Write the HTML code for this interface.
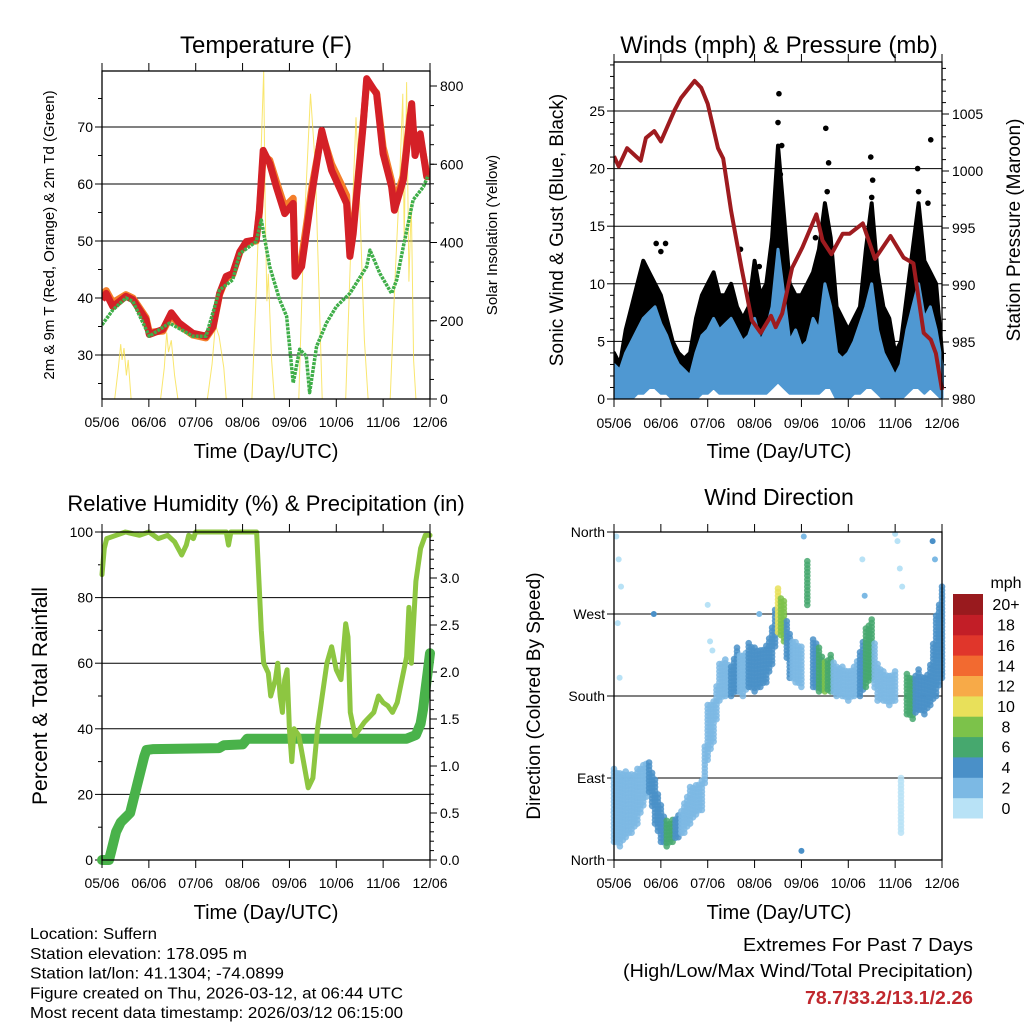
<!DOCTYPE html>
<html><head><meta charset="utf-8"><style>
html,body{margin:0;padding:0;background:#fff}
svg{display:block;font-family:"Liberation Sans",sans-serif}
</style></head><body>
<svg id="s" width="1024" height="1024" viewBox="0 0 1024 1024" xmlns="http://www.w3.org/2000/svg"></svg>
<script>
// ---------- DATA ----------
const dayLabels=["05/06","06/06","07/06","08/06","09/06","10/06","11/06","12/06"];
const tempTimes=[0,0.09,0.23,0.51,0.66,0.94,1.01,1.3,1.48,1.65,1.94,2.22,2.37,2.51,2.65,2.79,2.94,3.08,3.29,3.36,3.44,3.58,3.72,3.9,4.08,4.12,4.26,4.48,4.69,4.9,5.22,5.29,5.36,5.57,5.65,5.86,6.0,6.18,6.24,6.43,6.57,6.61,6.68,6.79,6.93,7.0];
const tempRed=[39.7,40.8,38.5,40.3,39.7,36.2,33.6,34.5,37.4,35.6,33.8,33.3,35,40.8,43.8,44.3,48.1,49.9,50.2,55.4,65.9,63.6,59.5,54.8,56.6,43.8,45.5,58.3,69.4,62.4,56.6,47.3,51.3,70,78.5,75.8,65.3,59.5,55.4,60.7,71.2,74.1,65,68.8,61.3,61.3];
const tempOrange=[40.6,41.3,39.2,40.6,40,36.6,34,34.2,37,35.2,33.5,33,34.8,40.6,43.5,44.1,48,49.7,50,55,65,64.2,60.5,56,57.5,45,47,59.5,69,63.5,58,49,52,70.5,77.8,76,66.5,60.5,56.5,61.5,72,73,66,68,62,61];
const dewTimes=[0,0.23,0.51,0.66,1.01,1.44,1.94,2.22,2.51,2.79,2.94,3.29,3.4,3.58,3.79,3.94,4.08,4.22,4.36,4.43,4.58,4.79,5.0,5.29,5.65,5.72,5.93,6.18,6.29,6.43,6.64,6.86,6.96];
const dewVals=[35.3,37.9,40,39.4,33.3,35.6,33.3,33.3,41.4,43.2,47.8,49.9,53.7,45.5,39.7,36.8,25.1,31,29.8,23.4,31.5,35.6,38.5,40.8,45.5,48.4,44.3,40.8,43.2,49,57.2,59.5,61.5];
const solarTimes=[0.27,0.35,0.4,0.43,0.47,0.52,0.56,0.62,null,1.25,1.33,1.38,1.42,1.48,1.55,1.62,null,2.25,2.35,2.42,2.5,2.6,2.65,null,3.2,3.3,3.4,3.45,3.48,3.52,3.55,3.62,3.68,null,4.2,4.3,4.45,4.55,4.65,4.7,null,5.2,5.3,5.42,5.5,5.6,5.68,null,6.15,6.25,6.35,6.42,6.45,6.5,6.55,6.6,6.65,6.7];
const solarVals=[0,80,140,100,130,60,100,0,null,0,80,170,120,150,60,0,null,0,90,190,160,80,0,null,0,300,650,840,500,250,320,100,0,null,0,400,780,600,200,0,null,0,350,720,500,150,0,null,0,300,550,780,400,810,300,500,100,0];
const windTimes=[0,0.125,0.25,0.375,0.5,0.625,0.75,0.875,1,1.125,1.25,1.375,1.5,1.625,1.75,1.875,2,2.125,2.25,2.375,2.5,2.625,2.75,2.875,3,3.125,3.25,3.375,3.5,3.625,3.75,3.875,4,4.125,4.25,4.375,4.5,4.625,4.75,4.875,5,5.125,5.25,5.375,5.5,5.625,5.75,5.875,6,6.125,6.25,6.375,6.5,6.625,6.75,6.875,7];
const windHigh=[3,2.5,4,5,6,7,7.5,8,6.5,5.5,4,3,2.5,2,4,5.5,6,7,6,6.5,7,6,5,5.5,7,5,6,8,13,9,5,6,4.5,5,7,6,10,8,4,3.5,4,5,6.5,8,10,6,4,3,2,3,6,8,10,7,8,6,3];
const windLow=[0,0,0,0,0.5,0.5,1,1,0.5,0.5,0,0,0,0,0,0.5,0.5,1,0.5,0.5,0.5,0.5,0.5,0.5,0.5,0.5,0.5,1,1.5,1,0.5,0.5,0.5,0.5,0.5,0.5,1,1,0,0,0,0.5,0.5,1,1,0.5,0,0,0,0,0.5,1,1,0.5,1,0.5,0];
const gustHigh=[4,3,6,8,10,12,11,10,9,7,5,4,3.5,4,7,9,10,11,9,9,10,8,7,8,12,9,10,14,22,16,10,9,9,10,11,13,17,14,8,7,6,7,8,13,17,11,8,7,4,5,9,13,17,12,11,10,4];
const gustSpikeTimes=[3.52,3.58,3.55,3.5,4.52,4.58,4.55,5.48,5.52,5.5,6.48,6.5,6.76,6.7,0.9,1.1,1.0,2.7,3.1,4.3];
const gustSpikeVals=[26.5,22,19.5,24,23.5,20.5,18,21,19,17.5,20,18,22.5,17,13.5,13.5,12.8,13,11.5,14];
const presTimes=[0,0.1,0.28,0.57,0.68,0.86,1.0,1.29,1.43,1.72,1.86,2.0,2.22,2.33,2.5,2.72,2.94,3.13,3.35,3.45,3.59,3.8,4.02,4.32,4.45,4.64,4.88,5.03,5.31,5.57,5.9,6.18,6.39,6.61,6.76,6.87,7.0];
const presVals=[1001.3,1000.4,1002,1000.9,1002.9,1003.5,1002.6,1005.3,1006.4,1007.9,1007.3,1005.9,1002,1001.1,996.5,991.5,986.9,985.8,987.3,986.3,987.5,991.5,993.3,996.2,993.9,992.7,994.5,994.5,995.4,992.3,994.3,992.4,991.9,985.8,985.2,984,980.8];
const rhTimes=[0,0.05,0.1,0.3,0.5,0.8,1.0,1.2,1.4,1.55,1.7,1.8,1.85,1.95,2.0,2.5,2.65,2.7,2.75,3.0,3.3,3.4,3.45,3.55,3.6,3.7,3.75,3.8,3.85,3.9,3.95,4.0,4.05,4.1,4.2,4.3,4.4,4.5,4.6,4.7,4.8,4.9,5.0,5.1,5.2,5.25,5.3,5.4,5.5,5.6,5.8,5.9,6.0,6.1,6.2,6.3,6.4,6.5,6.55,6.6,6.7,6.8,6.9,7.0];
const rhVals=[87,95,98,99,100,99,100,98,99,97,93,96,99,98,100,100,100,96,100,100,100,70,60,57,50,55,60,50,45,55,58,40,30,40,38,30,22,25,40,50,60,65,58,55,72,68,45,38,40,42,45,50,48,47,45,48,55,62,77,60,85,95,99,99];
const precipTimes=[0,0.15,0.2,0.3,0.4,0.5,0.6,0.7,0.8,0.9,0.95,1.1,2.5,2.6,3.0,3.1,6.5,6.7,6.8,6.85,6.9,6.95,7.0];
const precipVals=[0,0,0.1,0.3,0.4,0.45,0.5,0.7,0.9,1.1,1.17,1.18,1.19,1.22,1.23,1.29,1.29,1.33,1.45,1.6,1.8,2.0,2.2];
const dirTimes=windTimes;
const dirLow=[20,15,25,30,40,60,75,40,20,15,20,25,30,40,50,55,110,130,175,180,180,185,180,190,185,190,195,215,250,240,200,195,190,280,190,185,185,185,180,180,175,180,180,190,200,175,175,170,175,30,160,155,165,160,170,180,200];
const dirHigh=[100,95,100,95,100,105,110,90,60,45,45,50,65,80,85,90,170,175,215,220,215,235,225,240,235,230,235,255,300,285,250,240,235,330,245,235,220,225,215,215,210,215,230,255,265,215,210,205,210,90,205,200,210,200,215,270,300];
const dirSpeed=[2,2,3,2,3,3,4,4,5,6,6,5,3,2,2,2,2,2,3,3,4,4,3,4,4,4,4,5,10,8,4,3,3,6,5,7,8,7,3,3,3,3,4,7,7,3,3,2,2,1,6,6,5,4,4,4,4];
const outTimes=[0.05,0.1,0.15,0.08,0.85,2.0,2.05,3.1,5.3,5.35,6.0,6.05,6.1,6.15,6.8,6.85,4.05,4.0,0.12,2.1];
const outDirs=[355,330,300,260,270,280,240,270,330,290,358,350,320,300,350,330,355,10,200,230];
const outSpeed=[0,0,1,0,4,1,0,3,1,2,0,0,1,0,4,3,3,4,0,1];
const cbLabels=["0","2","4","6","8","10","12","14","16","18","20+"];
const cbColors=["#b8e2f6","#7cb9e4","#4a90c8","#46a86e","#7cc24a","#e8e05a","#f7aa48","#f26a30","#e0362b","#c21e27","#991a1e"];

// ---------- HELPERS ----------
const S=document.getElementById('s');const NS='http://www.w3.org/2000/svg';
function mk(tag,attrs,parent){const e=document.createElementNS(NS,tag);for(const k in attrs)e.setAttribute(k,attrs[k]);(parent||S).appendChild(e);return e;}
function txt(str,x,y,size,anchor,parent,extra){const e=mk('text',Object.assign({x:x,y:y,'font-size':size,'text-anchor':anchor||'middle',fill:'#000'},extra||{}),parent);e.textContent=str;return e;}
function lin(d0,d1,p0,p1){return v=>p0+(v-d0)/(d1-d0)*(p1-p0);}
function pathFrom(ts,vs,X,Y){let d='',pen=false;for(let i=0;i<ts.length;i++){if(ts[i]===null){pen=false;continue;}d+=(pen?'L':'M')+X(ts[i]).toFixed(1)+','+Y(vs[i]).toFixed(1);pen=true;}return d;}
function frame(g,x0,y0,x1,y1){mk('rect',{x:x0,y:y0,width:x1-x0,height:y1-y0,fill:'none',stroke:'#000','stroke-width':1.3},g);}
function xAxis(g,X,y0,y1,labY){dayLabels.forEach((l,i)=>{const x=X(i);mk('line',{x1:x,x2:x,y1:y1,y2:y1+8,stroke:'#000','stroke-width':1},g);mk('line',{x1:x,x2:x,y1:y0,y2:y0-8,stroke:'#000','stroke-width':1},g);const t=txt(l,x,labY,14,'middle',g);});}
function leftAxis(g,Y,ticks,labels,x0,x1,grid,minor){ticks.forEach((v,i)=>{const y=Y(v);mk('line',{x1:x0-7,x2:x0,y1:y,y2:y,stroke:'#000'},g);if(grid)mk('line',{x1:x0,x2:x1,y1:y,y2:y,stroke:'#000','stroke-width':1},g);const t=txt(labels[i],x0-9,y+5,14,'end',g);});(minor||[]).forEach(v=>{const y=Y(v);mk('line',{x1:x0-4,x2:x0,y1:y,y2:y,stroke:'#000'},g);});}
function rightAxis(g,Y,ticks,labels,x1,minor){ticks.forEach((v,i)=>{const y=Y(v);mk('line',{x1:x1,x2:x1+7,y1:y,y2:y,stroke:'#000'},g);const t=txt(labels[i],x1+10,y+5,14,'start',g);});(minor||[]).forEach(v=>{const y=Y(v);mk('line',{x1:x1,x2:x1+4,y1:y,y2:y,stroke:'#000'},g);});}
function rng(a,b,s){const r=[];for(let v=a;v<=b+1e-9;v+=s)r.push(+v.toFixed(4));return r;}

// ---------- PANEL 1: TEMPERATURE ----------
{const g=mk('g',{});
const x0=102,x1=430,y0=71,y1=399;const X=lin(0,7,x0,x1);const Y=lin(30,70,355,127);const YS=lin(0,800,399,86);
leftAxis(g,Y,[30,40,50,60,70],["30","40","50","60","70"],x0,x1,true,rng(25,80,5).filter(v=>Y(v)>=y0&&Y(v)<=y1));
rightAxis(g,YS,[0,200,400,600,800],["0","200","400","600","800"],x1,rng(0,840,50).filter(v=>YS(v)>=y0));
const cp=mk('clipPath',{id:'c1'},g);mk('rect',{x:x0,y:y0,width:x1-x0,height:y1-y0},cp);
const pg=mk('g',{'clip-path':'url(#c1)'},g);
const sol=mk('path',{d:pathFrom(solarTimes,solarVals,X,YS),fill:'none',stroke:'#f7e04a','stroke-width':1,'stroke-opacity':0.8},pg);
const or=mk('path',{d:pathFrom(tempTimes,tempOrange,X,Y),fill:'none',stroke:'#f47e2a','stroke-width':7,'stroke-linejoin':'round'},pg);
const rd=mk('path',{d:pathFrom(tempTimes,tempRed,X,Y),fill:'none',stroke:'#d42027','stroke-width':7,'stroke-linejoin':'round'},pg);
const dw=mk('path',{d:pathFrom(dewTimes,dewVals,X,Y),fill:'none',stroke:'#3fae49','stroke-width':3.5,'stroke-dasharray':'3 1','stroke-linejoin':'round'},pg);
frame(g,x0,y0,x1,y1);xAxis(g,X,y0,y1,427);
const t1=txt('Temperature (F)',266,53,24,'middle',g);
const t2=txt('Time (Day/UTC)',266,458,20,'middle',g);
const t3=txt('2m & 9m T (Red, Orange) & 2m Td (Green)',0,0,15,'middle',g,{transform:'translate(54,235) rotate(-90)'});
const t4=txt('Solar Insolation (Yellow)',0,0,15,'middle',g,{transform:'translate(497,235) rotate(-90)'});}

// ---------- PANEL 2: WINDS ----------
{const g=mk('g',{});
const x0=614,x1=942,y0=62,y1=399;const X=lin(0,7,x0,x1);const Y=lin(0,25,399,111);const YP=lin(980,1005,399,114);
leftAxis(g,Y,[0,5,10,15,20,25],["0","5","10","15","20","25"],x0,x1,true,rng(1,29,1).filter(v=>v%5));
rightAxis(g,YP,[980,985,990,995,1000,1005],["980","985","990","995","1000","1005"],x1,rng(981,1009,1).filter(v=>v%5));
const cp=mk('clipPath',{id:'c2'},g);mk('rect',{x:x0,y:y0-10,width:x1-x0+4,height:y1-y0+10},cp);
const pg=mk('g',{'clip-path':'url(#c2)'},g);
let d='M'+X(windTimes[0])+','+Y(windLow[0]);windTimes.forEach((t,i)=>{d+='L'+X(t).toFixed(1)+','+Y(gustHigh[i]).toFixed(1);});for(let i=windTimes.length-1;i>=0;i--)d+='L'+X(windTimes[i]).toFixed(1)+','+Y(windLow[i]+1).toFixed(1);
const ga=mk('path',{d:d+'Z',fill:'#000',stroke:'#000','stroke-width':4,'stroke-linejoin':'round'},pg);
gustSpikeTimes.forEach((t,i)=>{const c=mk('circle',{cx:X(t),cy:Y(gustSpikeVals[i]),r:2.8,fill:'#000'},pg);});
let d2='M'+X(windTimes[0])+','+Y(windLow[0]);windTimes.forEach((t,i)=>{d2+='L'+X(t).toFixed(1)+','+Y(windHigh[i]).toFixed(1);});for(let i=windTimes.length-1;i>=0;i--)d2+='L'+X(windTimes[i]).toFixed(1)+','+Y(windLow[i]).toFixed(1);
const wa=mk('path',{d:d2+'Z',fill:'#4f98d2',stroke:'#4f98d2','stroke-width':3,'stroke-linejoin':'round'},pg);
const pr=mk('path',{d:pathFrom(presTimes,presVals,X,YP),fill:'none',stroke:'#9e1b1f','stroke-width':4,'stroke-linejoin':'round'},pg);
frame(g,x0,y0,x1,y1);xAxis(g,X,y0,y1,428);
const t1=txt('Winds (mph) & Pressure (mb)',779,53,24,'middle',g);
const t2=txt('Time (Day/UTC)',779,458,20,'middle',g);
const t3=txt('Sonic Wind & Gust (Blue, Black)',0,0,19,'middle',g,{transform:'translate(563,230) rotate(-90)'});
const t4=txt('Station Pressure (Maroon)',0,0,19,'middle',g,{transform:'translate(1020,230) rotate(-90)'});}

// ---------- PANEL 3: RH & PRECIP ----------
{const g=mk('g',{});
const x0=102,x1=430,y0=532,y1=860;const X=lin(0,7,x0,x1);const Y=lin(0,100,860,532);const YP=lin(0,1,860,766);
leftAxis(g,Y,[0,20,40,60,80,100],["0","20","40","60","80","100"],x0,x1,true,[10,30,50,70,90]);
rightAxis(g,YP,[0,0.5,1,1.5,2,2.5,3],["0.0","0.5","1.0","1.5","2.0","2.5","3.0"],x1,rng(0.1,3.4,0.1).filter(v=>Math.round(v*10)%5));
const pl=mk('path',{d:pathFrom(precipTimes,precipVals,X,YP),fill:'none',stroke:'#49b24a','stroke-width':10,'stroke-linejoin':'round','stroke-linecap':'round'},g);
const rh=mk('path',{d:pathFrom(rhTimes,rhVals,X,Y),fill:'none',stroke:'#8dc641','stroke-width':5,'stroke-linejoin':'round','stroke-linecap':'round'},g);
frame(g,x0,y0,x1,y1);xAxis(g,X,y0,y1,888);
const t1=txt('Relative Humidity (%) & Precipitation (in)',266,511,22,'middle',g);
const t2=txt('Time (Day/UTC)',266,919,20,'middle',g);
const t3=txt('Percent & Total Rainfall',0,0,21,'middle',g,{transform:'translate(47,696) rotate(-90)'});}

// ---------- PANEL 4: WIND DIRECTION ----------
{const g=mk('g',{});
const x0=614,x1=942,y0=532,y1=860;const X=lin(0,7,x0,x1);const Y=lin(0,360,860,532);
leftAxis(g,Y,[0,90,180,270,360],["North","East","South","West","North"],x0,x1,false,[]);
[90,180,270].forEach(v=>mk('line',{x1:x0,x2:x1,y1:Y(v),y2:Y(v),stroke:'#000'},g));
const col=s=>cbColors[Math.min(10,Math.max(0,Math.floor(s/2)))];
const pg=mk('g',{},g);
function column(t,lo,hi,sp){for(let dg=lo;dg<=hi;dg+=4){const c=mk('circle',{cx:X(t).toFixed(1),cy:Y(dg).toFixed(1),r:3.3,fill:col(sp),'fill-opacity':0.85},pg);}}
dirTimes.forEach((t,i)=>{column(t,dirLow[i],dirHigh[i],dirSpeed[i]);if(i<dirTimes.length-1&&Math.abs(dirLow[i+1]-dirLow[i])<60){column((t+dirTimes[i+1])/2,(dirLow[i]+dirLow[i+1])/2+2,(dirHigh[i]+dirHigh[i+1])/2-2,Math.min(dirSpeed[i],dirSpeed[i+1]));}});
outTimes.forEach((t,i)=>{const c=mk('circle',{cx:X(t),cy:Y(outDirs[i]),r:3,fill:col(outSpeed[i])},pg);});
frame(g,x0,y0,x1,y1);xAxis(g,X,y0,y1,888);
const t1=txt('Wind Direction',779,505,23,'middle',g);
const t2=txt('Time (Day/UTC)',779,919,20,'middle',g);
const t3=txt('Direction (Colored By Speed)',0,0,19,'middle',g,{transform:'translate(540,696) rotate(-90)'});
const cb=mk('g',{},g);
const bh=224/11;
cbLabels.forEach((l,i)=>{const y=818-(i+1)*bh;const r=mk('rect',{x:953,y:y.toFixed(1),width:30,height:(bh+0.5).toFixed(1),fill:cbColors[i]},cb);const t=txt(l,1006,y+bh/2+6,16,'middle',cb);});
const mu=txt('mph',1006,588,16,'middle',cb);}

// ---------- FOOTER ----------
{const g=mk('g',{});
const lines=["Location: Suffern","Station elevation: 178.095 m","Station lat/lon: 41.1304; -74.0899","Figure created on Thu, 2026-03-12, at 06:44 UTC","Most recent data timestamp: 2026/03/12 06:15:00"];
const lens=[127,217,254,373,373];
lines.forEach((l,i)=>{const t=txt(l,30,939+i*19.8,16,'start',g,{textLength:lens[i],lengthAdjust:'spacingAndGlyphs'});});
const e1=txt('Extremes For Past 7 Days',973,951,18,'end',g,{textLength:230,lengthAdjust:'spacingAndGlyphs'});
const e2=txt('(High/Low/Max Wind/Total Precipitation)',973,977,18,'end',g,{textLength:350,lengthAdjust:'spacingAndGlyphs'});
const e3=txt('78.7/33.2/13.1/2.26',973,1004,18,'end',g,{fill:'#c0272d','font-weight':'bold',textLength:168,lengthAdjust:'spacingAndGlyphs'});}
</script>
</body></html>
